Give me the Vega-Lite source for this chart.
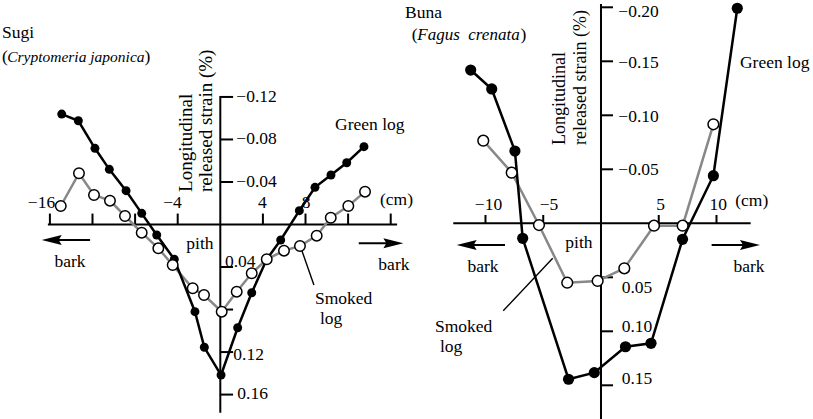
{
  "$schema": "https://vega.github.io/schema/vega-lite/v6.json",
  "width": 813,
  "height": 419,
  "autosize": {"type": "none"},
  "padding": 0,
  "background": "white",
  "config": {"view": {"stroke": null}, "font": "'Liberation Serif', 'Times New Roman', 'DejaVu Serif', serif", "text": {"font": "'Liberation Serif', 'Times New Roman', 'DejaVu Serif', serif"}},
  "datasets": {
    "sugi_pts": [
      {"s": "Green log", "x": -14.89, "y": -0.1039},
      {"s": "Green log", "x": -13.33, "y": -0.0976},
      {"s": "Green log", "x": -11.77, "y": -0.0717},
      {"s": "Green log", "x": -10.42, "y": -0.0519},
      {"s": "Green log", "x": -8.85, "y": -0.0318},
      {"s": "Green log", "x": -7.38, "y": -0.0105},
      {"s": "Green log", "x": -5.97, "y": 0.0099},
      {"s": "Green log", "x": -4.32, "y": 0.0327},
      {"s": "Green log", "x": -2.38, "y": 0.082},
      {"s": "Green log", "x": -1.5, "y": 0.1155},
      {"s": "Green log", "x": 0.07, "y": 0.1416},
      {"s": "Green log", "x": 1.63, "y": 0.0971},
      {"s": "Green log", "x": 2.95, "y": 0.0642},
      {"s": "Green log", "x": 4.36, "y": 0.0327},
      {"s": "Green log", "x": 5.67, "y": 0.0146},
      {"s": "Green log", "x": 7.42, "y": -0.013},
      {"s": "Green log", "x": 8.89, "y": -0.035},
      {"s": "Green log", "x": 10.39, "y": -0.0466},
      {"s": "Green log", "x": 11.87, "y": -0.0581},
      {"s": "Green log", "x": 13.49, "y": -0.0732},
      {"s": "Smoked log", "x": -14.98, "y": -0.0174},
      {"s": "Smoked log", "x": -13.27, "y": -0.0482},
      {"s": "Smoked log", "x": -11.86, "y": -0.0278},
      {"s": "Smoked log", "x": -10.36, "y": -0.0224},
      {"s": "Smoked log", "x": -8.95, "y": -0.008},
      {"s": "Smoked log", "x": -7.38, "y": 0.0077},
      {"s": "Smoked log", "x": -5.82, "y": 0.0224},
      {"s": "Smoked log", "x": -4.47, "y": 0.0381},
      {"s": "Smoked log", "x": -2.59, "y": 0.06},
      {"s": "Smoked log", "x": -1.53, "y": 0.0663},
      {"s": "Smoked log", "x": 0.13, "y": 0.082},
      {"s": "Smoked log", "x": 1.54, "y": 0.0632},
      {"s": "Smoked log", "x": 2.95, "y": 0.0459},
      {"s": "Smoked log", "x": 4.36, "y": 0.0327},
      {"s": "Smoked log", "x": 5.98, "y": 0.0246},
      {"s": "Smoked log", "x": 7.48, "y": 0.0202},
      {"s": "Smoked log", "x": 9.05, "y": 0.0105},
      {"s": "Smoked log", "x": 10.37, "y": -0.0064},
      {"s": "Smoked log", "x": 12.02, "y": -0.0174},
      {"s": "Smoked log", "x": 13.59, "y": -0.0309}
    ],
    "buna_pts": [
      {"s": "Green log", "x": -11.28, "y": -0.1419},
      {"s": "Green log", "x": -9.46, "y": -0.1244},
      {"s": "Green log", "x": -7.45, "y": -0.0669},
      {"s": "Green log", "x": -6.78, "y": 0.0139},
      {"s": "Green log", "x": -2.81, "y": 0.1444},
      {"s": "Green log", "x": -0.58, "y": 0.1383},
      {"s": "Green log", "x": 2.12, "y": 0.1143},
      {"s": "Green log", "x": 4.33, "y": 0.1111},
      {"s": "Green log", "x": 7.06, "y": 0.0148},
      {"s": "Green log", "x": 9.73, "y": -0.0441},
      {"s": "Green log", "x": 11.8, "y": -0.1991},
      {"s": "Smoked log", "x": -10.19, "y": -0.0765},
      {"s": "Smoked log", "x": -7.73, "y": -0.0469},
      {"s": "Smoked log", "x": -5.37, "y": 0.0016},
      {"s": "Smoked log", "x": -2.92, "y": 0.055},
      {"s": "Smoked log", "x": -0.29, "y": 0.0534},
      {"s": "Smoked log", "x": 2.02, "y": 0.0417},
      {"s": "Smoked log", "x": 4.59, "y": 0.0022},
      {"s": "Smoked log", "x": 7.07, "y": 0.0022},
      {"s": "Smoked log", "x": 9.73, "y": -0.0917}
    ],
    "sugi_rules": [
      {"k": "axis", "x": -16.19, "y": 0, "x2": 16.6, "y2": 0},
      {"k": "axis", "x": 0, "y": -0.121, "x2": 0, "y2": 0.177},
      {"k": "tick", "x": -16, "y": 0, "x2": -16, "y2": -0.0103},
      {"k": "tick", "x": -12, "y": 0, "x2": -12, "y2": -0.0103},
      {"k": "tick", "x": -8, "y": 0, "x2": -8, "y2": -0.0103},
      {"k": "tick", "x": -4, "y": 0, "x2": -4, "y2": -0.0103},
      {"k": "tick", "x": 4, "y": 0, "x2": 4, "y2": -0.0103},
      {"k": "tick", "x": 8, "y": 0, "x2": 8, "y2": -0.0103},
      {"k": "tick", "x": 12, "y": 0, "x2": 12, "y2": -0.0103},
      {"k": "tick", "x": 16, "y": 0, "x2": 16, "y2": -0.0103},
      {"k": "tick", "x": 0, "y": -0.12, "x2": 1.2, "y2": -0.12},
      {"k": "tick", "x": 0, "y": -0.08, "x2": 1.2, "y2": -0.08},
      {"k": "tick", "x": 0, "y": -0.04, "x2": 1.2, "y2": -0.04},
      {"k": "tick", "x": 0, "y": 0.04, "x2": 1.2, "y2": 0.04},
      {"k": "tick", "x": 0, "y": 0.08, "x2": 1.2, "y2": 0.08},
      {"k": "tick", "x": 0, "y": 0.12, "x2": 1.2, "y2": 0.12},
      {"k": "tick", "x": 0, "y": 0.16, "x2": 1.2, "y2": 0.16},
      {"k": "arrow", "x": -15.83, "y": 0.0146, "x2": -12.23, "y2": 0.0146},
      {"k": "arrow", "x": 13.0, "y": 0.0177, "x2": 16.25, "y2": 0.0177},
      {"k": "leader", "x": 7.64, "y": 0.024, "x2": 8.79, "y2": 0.0569}
    ],
    "buna_rules": [
      {"k": "axis", "x": -12.79, "y": 0, "x2": 12.96, "y2": 0},
      {"k": "axis", "x": 0, "y": -0.203, "x2": 0, "y2": 0.1812},
      {"k": "tick", "x": -10, "y": 0, "x2": -10, "y2": -0.0077},
      {"k": "tick", "x": -5, "y": 0, "x2": -5, "y2": -0.0077},
      {"k": "tick", "x": 5, "y": 0, "x2": 5, "y2": -0.0077},
      {"k": "tick", "x": 10, "y": 0, "x2": 10, "y2": -0.0077},
      {"k": "tick", "x": 0, "y": -0.2, "x2": 1.04, "y2": -0.2},
      {"k": "tick", "x": 0, "y": -0.15, "x2": 1.04, "y2": -0.15},
      {"k": "tick", "x": 0, "y": -0.1, "x2": 1.04, "y2": -0.1},
      {"k": "tick", "x": 0, "y": -0.05, "x2": 1.04, "y2": -0.05},
      {"k": "tick", "x": 0, "y": 0.05, "x2": 1.04, "y2": 0.05},
      {"k": "tick", "x": 0, "y": 0.1, "x2": 1.04, "y2": 0.1},
      {"k": "tick", "x": 0, "y": 0.15, "x2": 1.04, "y2": 0.15},
      {"k": "arrow", "x": -11.63, "y": 0.0201, "x2": -8.31, "y2": 0.0201},
      {"k": "arrow", "x": 9.58, "y": 0.0201, "x2": 12.9, "y2": 0.0201},
      {"k": "leader", "x": -8.46, "y": 0.0809, "x2": -4.18, "y2": 0.0324}
    ],
    "sugi_arrows": [
      {"dir": "left", "x": -15.83, "y": 0.0146},
      {"dir": "right", "x": 16.25, "y": 0.0177}
    ],
    "buna_arrows": [
      {"dir": "left", "x": -11.63, "y": 0.0201},
      {"dir": "right", "x": 12.9, "y": 0.0201}
    ],
    "sugi_text": [
      {"g": "c", "t": "−16", "x": -16.79, "y": -0.0202},
      {"g": "c", "t": "−4", "x": -4.49, "y": -0.0202},
      {"g": "c", "t": "4", "x": 3.94, "y": -0.0202},
      {"g": "c", "t": "8", "x": 8.05, "y": -0.0202},
      {"g": "c", "t": "(cm)", "x": 16.54, "y": -0.023},
      {"g": "c", "t": "pith", "x": -1.91, "y": 0.0183},
      {"g": "c", "t": "bark", "x": -14.11, "y": 0.0356},
      {"g": "c", "t": "bark", "x": 16.3, "y": 0.0381},
      {"g": "l", "t": "−0.12", "x": 1.5, "y": -0.12},
      {"g": "l", "t": "−0.08", "x": 1.5, "y": -0.08},
      {"g": "l", "t": "−0.04", "x": 1.5, "y": -0.04},
      {"g": "l", "t": "0.04", "x": 0.44, "y": 0.035},
      {"g": "l", "t": "0.12", "x": 1.22, "y": 0.1228},
      {"g": "l", "t": "0.16", "x": 1.6, "y": 0.1597},
      {"g": "l", "t": "Green log", "x": 10.77, "y": -0.0936},
      {"g": "l", "t": "Smoked", "x": 8.89, "y": 0.0701},
      {"g": "l", "t": "log", "x": 9.36, "y": 0.0889},
      {"g": "l", "t": "Sugi", "x": -20.5, "y": -0.1801},
      {"g": "p", "t": "(", "x": -20.5, "y": -0.1576},
      {"g": "p", "t": ")", "x": -7.12, "y": -0.1576},
      {"g": "i", "t": "Cryptomeria japonica", "x": -20.01, "y": -0.1576},
      {"g": "title", "t": "Longitudinal\nreleased strain (%)", "x": -3.22, "y": -0.0306}
    ],
    "buna_text": [
      {"g": "c", "t": "−10", "x": -9.74, "y": -0.0169},
      {"g": "c", "t": "−5", "x": -4.5, "y": -0.0169},
      {"g": "c", "t": "5", "x": 5.17, "y": -0.0169},
      {"g": "c", "t": "10", "x": 10.16, "y": -0.0169},
      {"g": "c", "t": "(cm)", "x": 13.05, "y": -0.0202},
      {"g": "c", "t": "pith", "x": -1.91, "y": 0.0185},
      {"g": "c", "t": "bark", "x": -10.22, "y": 0.0402},
      {"g": "c", "t": "bark", "x": 12.81, "y": 0.0402},
      {"g": "l", "t": "−0.20", "x": 1.5, "y": -0.196},
      {"g": "l", "t": "−0.15", "x": 1.5, "y": -0.148},
      {"g": "l", "t": "−0.10", "x": 1.5, "y": -0.0987},
      {"g": "l", "t": "−0.05", "x": 1.5, "y": -0.0494},
      {"g": "l", "t": "0.05", "x": 1.79, "y": 0.0602},
      {"g": "l", "t": "0.10", "x": 1.79, "y": 0.0957},
      {"g": "l", "t": "0.15", "x": 1.79, "y": 0.1444},
      {"g": "l", "t": "Green log", "x": 12.03, "y": -0.148},
      {"g": "l", "t": "Smoked", "x": -14.37, "y": 0.0956},
      {"g": "l", "t": "log", "x": -13.94, "y": 0.1146},
      {"g": "l", "t": "Buna", "x": -16.97, "y": -0.1944},
      {"g": "p", "t": "(", "x": -16.39, "y": -0.1744},
      {"g": "p", "t": ")", "x": -6.97, "y": -0.1744},
      {"g": "i", "t": "Fagus\u00a0 crenata", "x": -15.9, "y": -0.1744},
      {"g": "title", "t": "Longitudinal\nreleased strain (%)", "x": -3.55, "y": -0.0725}
    ]
  },
  "layer": [
    {
      "encoding": {
        "x": {"field": "x", "type": "quantitative", "scale": {"domain": [-20.685, 55.65], "nice": false, "zero": false}, "axis": null},
        "y": {"field": "y", "type": "quantitative", "scale": {"domain": [-0.2112, 0.18297], "nice": false, "zero": false, "reverse": true}, "axis": null}
      },
      "layer": [
        {"data": {"name": "sugi_rules"}, "transform": [{"filter": "datum.k !== 'leader'"}], "mark": {"type": "rule", "color": "black", "strokeWidth": 2}, "encoding": {"x2": {"field": "x2"}, "y2": {"field": "y2"}}},
        {"data": {"name": "sugi_rules"}, "transform": [{"filter": "datum.k === 'leader'"}], "mark": {"type": "rule", "color": "black", "strokeWidth": 1.4}, "encoding": {"x2": {"field": "x2"}, "y2": {"field": "y2"}}},
        {"data": {"name": "sugi_arrows"}, "mark": {"type": "point", "filled": true, "color": "black", "size": 400, "opacity": 1, "strokeWidth": 0}, "encoding": {"shape": {"field": "dir", "type": "nominal", "scale": {"domain": ["left", "right"], "range": ["M-1,0L1,-0.5L0.7,0L1,0.5Z", "M1,0L-1,-0.5L-0.7,0L-1,0.5Z"]}, "legend": null}}},
        {"data": {"name": "sugi_pts"}, "transform": [{"filter": "datum.s === 'Smoked log'"}], "mark": {"type": "line", "color": "#888888", "strokeWidth": 2.5}},
        {"data": {"name": "sugi_pts"}, "transform": [{"filter": "datum.s === 'Green log'"}], "mark": {"type": "line", "color": "black", "strokeWidth": 2.5}},
        {"data": {"name": "sugi_pts"}, "transform": [{"filter": "datum.s === 'Green log'"}], "mark": {"type": "circle", "color": "black", "size": 80, "opacity": 1}},
        {"data": {"name": "sugi_pts"}, "transform": [{"filter": "datum.s === 'Smoked log'"}], "mark": {"type": "circle", "fill": "white", "stroke": "black", "strokeWidth": 1.5, "size": 110, "opacity": 1}},
        {"data": {"name": "sugi_text"}, "transform": [{"filter": "datum.g === 'c'"}], "mark": {"type": "text", "font": "'Liberation Serif', 'Times New Roman', 'DejaVu Serif', serif", "fontSize": 17.5, "align": "center", "baseline": "middle", "color": "black"}, "encoding": {"text": {"field": "t"}}},
        {"data": {"name": "sugi_text"}, "transform": [{"filter": "datum.g === 'l' || datum.g === 'p'"}], "mark": {"type": "text", "font": "'Liberation Serif', 'Times New Roman', 'DejaVu Serif', serif", "fontSize": 17.5, "align": "left", "baseline": "middle", "color": "black"}, "encoding": {"text": {"field": "t"}}},
        {"data": {"name": "sugi_text"}, "transform": [{"filter": "datum.g === 'i'"}], "mark": {"type": "text", "font": "'Liberation Serif', 'Times New Roman', 'DejaVu Serif', serif", "fontSize": 15.5, "fontStyle": "italic", "align": "left", "baseline": "middle", "color": "black"}, "encoding": {"text": {"field": "t"}}},
        {"data": {"name": "sugi_text"}, "transform": [{"filter": "datum.g === 'title'"}], "mark": {"type": "text", "font": "'Liberation Serif', 'Times New Roman', 'DejaVu Serif', serif", "fontSize": 19, "angle": 270, "lineBreak": "\n", "lineHeight": 20, "align": "left", "baseline": "middle", "color": "black"}, "encoding": {"text": {"field": "t"}}}
      ]
    },
    {
      "encoding": {
        "x": {"field": "x", "type": "quantitative", "scale": {"domain": [-52.03, 18.355], "nice": false, "zero": false}, "axis": null},
        "y": {"field": "y", "type": "quantitative", "scale": {"domain": [-0.20676, 0.1812], "nice": false, "zero": false, "reverse": true}, "axis": null}
      },
      "layer": [
        {"data": {"name": "buna_rules"}, "transform": [{"filter": "datum.k !== 'leader'"}], "mark": {"type": "rule", "color": "black", "strokeWidth": 2}, "encoding": {"x2": {"field": "x2"}, "y2": {"field": "y2"}}},
        {"data": {"name": "buna_rules"}, "transform": [{"filter": "datum.k === 'leader'"}], "mark": {"type": "rule", "color": "black", "strokeWidth": 1.4}, "encoding": {"x2": {"field": "x2"}, "y2": {"field": "y2"}}},
        {"data": {"name": "buna_arrows"}, "mark": {"type": "point", "filled": true, "color": "black", "size": 400, "opacity": 1, "strokeWidth": 0}, "encoding": {"shape": {"field": "dir", "type": "nominal", "scale": {"domain": ["left", "right"], "range": ["M-1,0L1,-0.5L0.7,0L1,0.5Z", "M1,0L-1,-0.5L-0.7,0L-1,0.5Z"]}, "legend": null}}},
        {"data": {"name": "buna_pts"}, "transform": [{"filter": "datum.s === 'Smoked log'"}], "mark": {"type": "line", "color": "#888888", "strokeWidth": 2.5}},
        {"data": {"name": "buna_pts"}, "transform": [{"filter": "datum.s === 'Green log'"}], "mark": {"type": "line", "color": "black", "strokeWidth": 2.5}},
        {"data": {"name": "buna_pts"}, "transform": [{"filter": "datum.s === 'Green log'"}], "mark": {"type": "circle", "color": "black", "size": 125, "opacity": 1}},
        {"data": {"name": "buna_pts"}, "transform": [{"filter": "datum.s === 'Smoked log'"}], "mark": {"type": "circle", "fill": "white", "stroke": "black", "strokeWidth": 1.5, "size": 115, "opacity": 1}},
        {"data": {"name": "buna_text"}, "transform": [{"filter": "datum.g === 'c'"}], "mark": {"type": "text", "font": "'Liberation Serif', 'Times New Roman', 'DejaVu Serif', serif", "fontSize": 17.5, "align": "center", "baseline": "middle", "color": "black"}, "encoding": {"text": {"field": "t"}}},
        {"data": {"name": "buna_text"}, "transform": [{"filter": "datum.g === 'l' || datum.g === 'p'"}], "mark": {"type": "text", "font": "'Liberation Serif', 'Times New Roman', 'DejaVu Serif', serif", "fontSize": 17.5, "align": "left", "baseline": "middle", "color": "black"}, "encoding": {"text": {"field": "t"}}},
        {"data": {"name": "buna_text"}, "transform": [{"filter": "datum.g === 'i'"}], "mark": {"type": "text", "font": "'Liberation Serif', 'Times New Roman', 'DejaVu Serif', serif", "fontSize": 17, "fontStyle": "italic", "align": "left", "baseline": "middle", "color": "black"}, "encoding": {"text": {"field": "t"}}},
        {"data": {"name": "buna_text"}, "transform": [{"filter": "datum.g === 'title'"}], "mark": {"type": "text", "font": "'Liberation Serif', 'Times New Roman', 'DejaVu Serif', serif", "fontSize": 18, "angle": 270, "lineBreak": "\n", "lineHeight": 21, "align": "left", "baseline": "middle", "color": "black"}, "encoding": {"text": {"field": "t"}}}
      ]
    }
  ],
  "resolve": {"scale": {"x": "independent", "y": "independent"}}
}
